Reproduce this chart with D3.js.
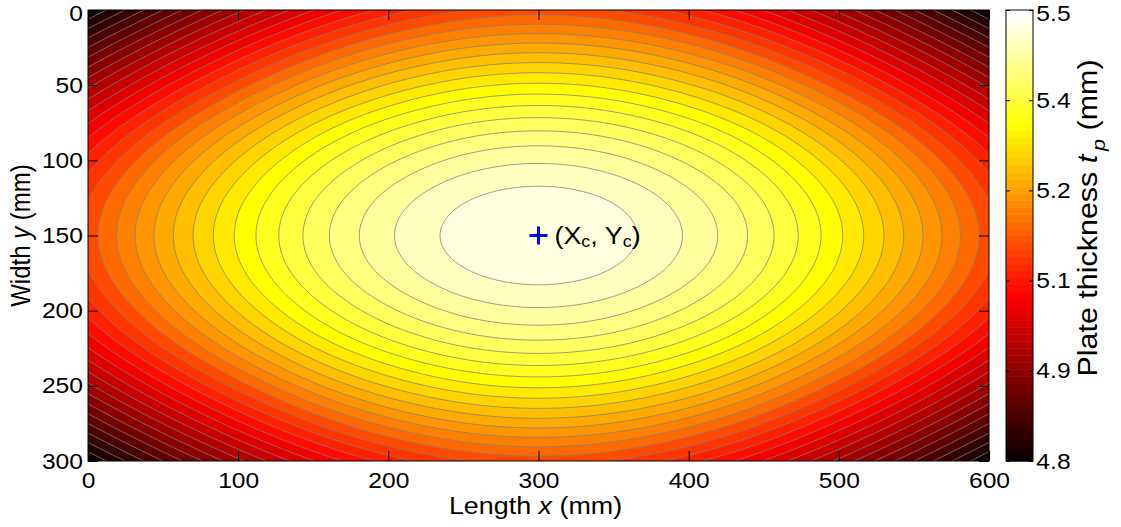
<!DOCTYPE html>
<html lang="en">
<head>
<meta charset="utf-8">
<title>Plate thickness contour</title>
<script src="https://d3js.org/d3.v7.min.js"></script>
<style>
body { margin: 0; background: #fff; }
text { font-family: "Liberation Sans", Arial, Helvetica, sans-serif; fill: #000; }
.iso { fill: none; stroke: #808080; stroke-width: 0.8; }
</style>
</head>
<body>
<script>
// thickness (mm) read along the centre line y = 150, every 25 mm of x
var xSamples = [0, 25, 50, 75, 100, 125, 150, 175, 200, 225, 250, 275, 300,
                325, 350, 375, 400, 425, 450, 475, 500, 525, 550, 575, 600];
var thickAlongX = [5.150, 5.196, 5.241, 5.284, 5.325, 5.363, 5.398, 5.428, 5.453, 5.473, 5.488, 5.497, 5.500,
                   5.497, 5.488, 5.473, 5.453, 5.428, 5.398, 5.363, 5.325, 5.284, 5.241, 5.196, 5.150];
// thickness read along the centre line x = 300, every 12.5 mm of y
var ySamples = [0, 12.5, 25, 37.5, 50, 62.5, 75, 87.5, 100, 112.5, 125, 137.5, 150,
                162.5, 175, 187.5, 200, 212.5, 225, 237.5, 250, 262.5, 275, 287.5, 300];
var thickAlongY = [5.150, 5.196, 5.241, 5.284, 5.325, 5.363, 5.398, 5.428, 5.453, 5.473, 5.488, 5.497, 5.500,
                   5.497, 5.488, 5.473, 5.453, 5.428, 5.398, 5.363, 5.325, 5.284, 5.241, 5.196, 5.150];
var peak = 5.5;            // thickness at (Xc, Yc)
var centre = [300, 150];   // Xc, Yc
var colorRange = [4.8, 5.5];

// 30 contour levels between 4.8 and 5.5
var levels = [4.8226, 4.8452, 4.8677, 4.8903, 4.9129, 4.9355, 4.9581, 4.9806, 5.0032, 5.0258,
              5.0484, 5.0710, 5.0935, 5.1161, 5.1387, 5.1613, 5.1839, 5.2065, 5.2290, 5.2516,
              5.2742, 5.2968, 5.3194, 5.3419, 5.3645, 5.3871, 5.4097, 5.4323, 5.4548, 5.4774];

var xTicks = [0, 100, 200, 300, 400, 500, 600];
var yTicks = [0, 50, 100, 150, 200, 250, 300];
var cbTicks = [4.8, 4.94, 5.08, 5.22, 5.36, 5.5];

var W = 1121, H = 527;
var sx = 1.12; // text is a bit wider than plain Arial in the original
var tickFont = 22, labelFont = 24;

var svg = d3.select("body").append("svg")
  .attr("width", W).attr("height", H);

var x = d3.scaleLinear().domain([0, 600]).range([88, 989]);
var y = d3.scaleLinear().domain([0, 300]).range([10, 461]);
var c = d3.scaleLinear().domain(colorRange).range([461, 10]);

// MATLAB "hot" colormap, 64 entries
function hot(m) {
  var n = Math.floor(3 / 8 * m), out = [];
  for (var i = 1; i <= m; i++) {
    var r = Math.min(i / n, 1),
        g = Math.min(Math.max((i - n) / n, 0), 1),
        b = Math.max((i - 2 * n) / (m - 2 * n), 0);
    out.push(d3.rgb(r * 255, g * 255, b * 255).formatHex());
  }
  return out;
}
var hotColors = hot(64);
var color = d3.scaleQuantize().domain(colorRange).range(hotColors);

// build the thickness field on a 1 mm grid from the two centre-line profiles
var fx = d3.interpolateBasis(thickAlongX), fy = d3.interpolateBasis(thickAlongY);
var nx = 601, ny = 301;
var colVal = d3.range(nx).map(function(i) { return fx(i / (nx - 1)); });
var rowVal = d3.range(ny).map(function(j) { return fy(j / (ny - 1)); });
var field = new Float64Array(nx * ny);
for (var j = 0; j < ny; j++)
  for (var i = 0; i < nx; i++)
    field[j * nx + i] = colVal[i] + rowVal[j] - peak;

var contours = d3.contours().size([nx, ny]).thresholds(levels)(field);

var gx = d3.scaleLinear().domain([0, nx - 1]).range([xSamples[0], xSamples[xSamples.length - 1]]);
var gy = d3.scaleLinear().domain([0, ny - 1]).range([ySamples[0], ySamples[ySamples.length - 1]]);
var proj = d3.geoTransform({
  point: function(px, py) { this.stream.point(x(gx(px - 0.5)), y(gy(py - 0.5))); }
});
var path = d3.geoPath(proj);

svg.append("clipPath").attr("id", "plotclip")
  .append("rect").attr("x", x(0)).attr("y", y(0))
  .attr("width", x(600) - x(0)).attr("height", y(300) - y(0));

var plot = svg.append("g").attr("clip-path", "url(#plotclip)");
plot.append("rect")
  .attr("x", x(0)).attr("y", y(0))
  .attr("width", x(600) - x(0)).attr("height", y(300) - y(0))
  .attr("fill", color(d3.min(field)));

plot.selectAll("path.band").data(contours).enter().append("path")
  .attr("class", "band")
  .attr("d", path)
  .attr("fill", function(d) { return color(d.value); });

plot.selectAll("path.iso").data(contours).enter().append("path")
  .attr("class", "iso")
  .attr("d", path);

// axes with inward ticks
function styleAxis(g) {
  g.attr("font-size", null).attr("font-family", null);
  g.select(".domain").remove();
  g.selectAll(".tick line").attr("stroke", "#000");
  g.selectAll(".tick text")
    .attr("font-size", tickFont)
    .attr("transform", "scale(" + sx + ",1)");
}
// keep the labels of the top ticks inside the picture
function nudgeTop(scale) {
  return function(g) {
    g.selectAll(".tick text").filter(function(d) { return scale(d) < 14; }).attr("dy", "0.48em");
  };
}

svg.append("g").attr("transform", "translate(0," + y(300) + ")")
  .call(d3.axisBottom(x).tickValues(xTicks).tickSize(-10).tickPadding(11))
  .call(styleAxis);
svg.append("g").attr("transform", "translate(0," + y(0) + ")")
  .call(d3.axisTop(x).tickValues(xTicks).tickSize(-10).tickFormat(""))
  .call(styleAxis);
svg.append("g").attr("transform", "translate(" + x(0) + ",0)")
  .call(d3.axisLeft(y).tickValues(yTicks).tickSize(-10).tickPadding(4.5))
  .call(styleAxis).call(nudgeTop(y));
svg.append("g").attr("transform", "translate(" + x(600) + ",0)")
  .call(d3.axisRight(y).tickValues(yTicks).tickSize(-10).tickFormat(""))
  .call(styleAxis);

svg.append("rect")
  .attr("x", x(0)).attr("y", y(0))
  .attr("width", x(600) - x(0)).attr("height", y(300) - y(0))
  .attr("fill", "none").attr("stroke", "#000").attr("stroke-width", 1);

// axis titles
function titleGroup(tx, ty, sy, rot) {
  return svg.append("g")
    .attr("transform", "translate(" + tx + "," + ty + ") scale(" + sx + "," + sy + ")" + (rot ? " rotate(" + rot + ")" : ""))
    .append("text").attr("text-anchor", "middle").attr("font-size", labelFont);
}

var xt = titleGroup((x(0) + x(600)) / 2 - 3, 514, 1, 0);
xt.append("tspan").text("Length ");
xt.append("tspan").attr("font-style", "italic").text("x");
xt.append("tspan").text(" (mm)");

var yt = titleGroup(30, (y(0) + y(300)) / 2, 1, -90);
yt.append("tspan").text("Width ");
yt.append("tspan").attr("font-style", "italic").text("y");
yt.append("tspan").text(" (mm)");

// colour bar
var cbX0 = 1006, cbX1 = 1033;
var step = (colorRange[1] - colorRange[0]) / hotColors.length;
svg.append("g").selectAll("rect").data(hotColors).enter().append("rect")
  .attr("x", cbX0).attr("width", cbX1 - cbX0)
  .attr("y", function(d, i) { return c(colorRange[0] + (i + 1) * step); })
  .attr("height", function(d, i) { return c(colorRange[0] + i * step) - c(colorRange[0] + (i + 1) * step) + 0.5; })
  .attr("fill", function(d) { return d; });

svg.append("g").attr("transform", "translate(" + cbX1 + ",0)")
  .call(d3.axisRight(c).tickValues(cbTicks).tickSize(-4).tickPadding(3).tickFormat(d3.format(".1f")))
  .call(styleAxis).call(nudgeTop(c));
svg.append("g").attr("transform", "translate(" + cbX0 + ",0)")
  .call(d3.axisLeft(c).tickValues(cbTicks).tickSize(-4).tickFormat(""))
  .call(styleAxis);
svg.append("rect")
  .attr("x", cbX0).attr("y", c(colorRange[1]))
  .attr("width", cbX1 - cbX0).attr("height", c(colorRange[0]) - c(colorRange[1]))
  .attr("fill", "none").attr("stroke", "#000").attr("stroke-width", 1);

var ct = titleGroup(1097, 218, 1.27, -90);
ct.append("tspan").text("Plate thickness  ");
ct.append("tspan").attr("font-style", "italic").text("t");
ct.append("tspan").attr("font-style", "italic").attr("font-size", 17).attr("dy", 7).attr("dx", 3).text("p");
ct.append("tspan").attr("dy", -7).text(" (mm)");

// centre marker and its label
var cx = x(centre[0]), cy = y(centre[1]);
svg.append("path")
  .attr("d", "M" + (cx - 9) + "," + cy + "H" + (cx + 9) + "M" + cx + "," + (cy - 9) + "V" + (cy + 9))
  .attr("stroke", "#0000ff").attr("stroke-width", 3).attr("fill", "none");

var ann = svg.append("g")
  .attr("transform", "translate(" + (cx + 16) + "," + (cy + 8) + ") scale(" + sx + ",1)")
  .append("text").attr("font-size", labelFont);
ann.append("tspan").text("(X");
ann.append("tspan").attr("font-size", 16).attr("dy", 3).text("c");
ann.append("tspan").attr("dy", -3).text(", Y");
ann.append("tspan").attr("font-size", 16).attr("dy", 3).text("c");
ann.append("tspan").attr("dy", -3).text(")");
</script>
</body>
</html>
